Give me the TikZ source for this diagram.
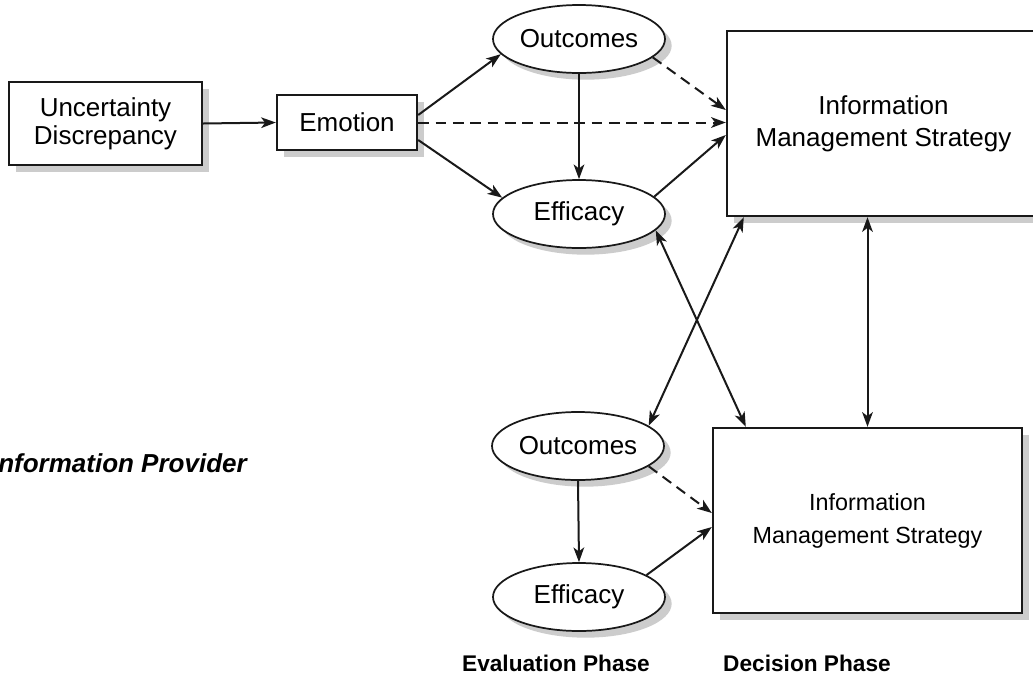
\documentclass[tikz,border=0pt]{standalone}
\usepackage{fontspec}
\setmainfont{Liberation Sans}
\usetikzlibrary{shapes.geometric,arrows.meta,shadows,calc}
\begin{document}
\begin{tikzpicture}[x=0.75pt,y=-0.75pt,
  shad/.style={drop shadow={shadow xshift=5pt, shadow yshift=-5pt, fill=black!20, opacity=1}},
  box/.style={draw=black!90, line width=1.8pt, fill=white, inner sep=0pt, align=center, shad},
  oval/.style={ellipse, draw=black!90, line width=1.3pt, fill=white, inner sep=0pt,
    minimum width=129pt, minimum height=51pt, font=\fontsize{19.5}{23}\selectfont, shad},
  tip/.tip={Stealth[length=11pt,width=8pt,inset=3pt]},
  arr/.style={line width=1.5pt, draw=black!90, -tip},
  darr/.style={line width=1.5pt, draw=black!90, tip-tip},
  dsh/.style={arr, dash pattern=on 8pt off 5pt},
  phase/.style={font=\fontsize{17}{20}\selectfont\bfseries},
]
\clip (0,0) rectangle (1033,679);
\fill[white] (0,0) rectangle (1033,679);

\node[box, minimum width=144.75pt, minimum height=62.25pt, font=\fontsize{19.5}{21}\selectfont] (UD) at (105.5,123.5) {Uncertainty\\Discrepancy};
\node[box, minimum width=105pt, minimum height=41.25pt, font=\fontsize{19.5}{23}\selectfont] (Emo) at (347,122.5) {Emotion};
\node[oval] (OutT) at (579,39) {Outcomes};
\node[oval] (EffT) at (579,214) {Efficacy};
\node[box, minimum width=234.75pt, minimum height=138.75pt, font=\fontsize{19.5}{24}\selectfont] (IMS1) at (883.5,123.5) {Information\\Management Strategy};
\node[oval] (OutB) at (578,446) {Outcomes};
\node[oval] (EffB) at (579,597) {Efficacy};
\node[box, minimum width=231.75pt, minimum height=138.75pt, font=\fontsize{17.5}{24.75}\selectfont] (IMS2) at (867.5,520.5) {Information\\Management Strategy};

\node[phase] (EvP) at (556,663) {Evaluation Phase};
\node[phase] (DeP) at (807,663) {Decision Phase};
\node[font=\fontsize{19.5}{22}\selectfont\bfseries\itshape, anchor=east, inner sep=0pt] (IP) at (247,463) {Information Provider};

% top row connectors
\draw[arr] (UD.east) -- (Emo.west);
\draw[arr] ($(Emo.east)+(0,-7.5)$) -- (OutT.191);
\draw[arr] ($(Emo.east)+(0,17.5)$) -- (EffT.168);
\draw[dsh] (Emo.east) -- (Emo.east -| IMS1.west);
\draw[arr] (OutT.south) -- (EffT.north);
\draw[dsh] (OutT.-14) -- ($(IMS1.west)+(0,-13.5)$);
\draw[arr] (EffT.13) -- ($(IMS1.west)+(0,11.5)$);

% crossing connectors
\draw[darr] (EffT.-12) -- ($(IMS2.north west)+(34,0)$);
\draw[darr] ($(IMS1.south west)+(18,0)$) -- (OutB.16);
\draw[darr] (IMS1.south -| IMS2.north) -- (IMS2.north);

% bottom row connectors
\draw[arr] (OutB.south) -- (EffB.north);
\draw[dsh] (OutB.-16) -- ($(IMS2.west)+(0,-7.5)$);
\draw[arr] (EffB.18) -- ($(IMS2.west)+(0,6.5)$);
\end{tikzpicture}
\end{document}
